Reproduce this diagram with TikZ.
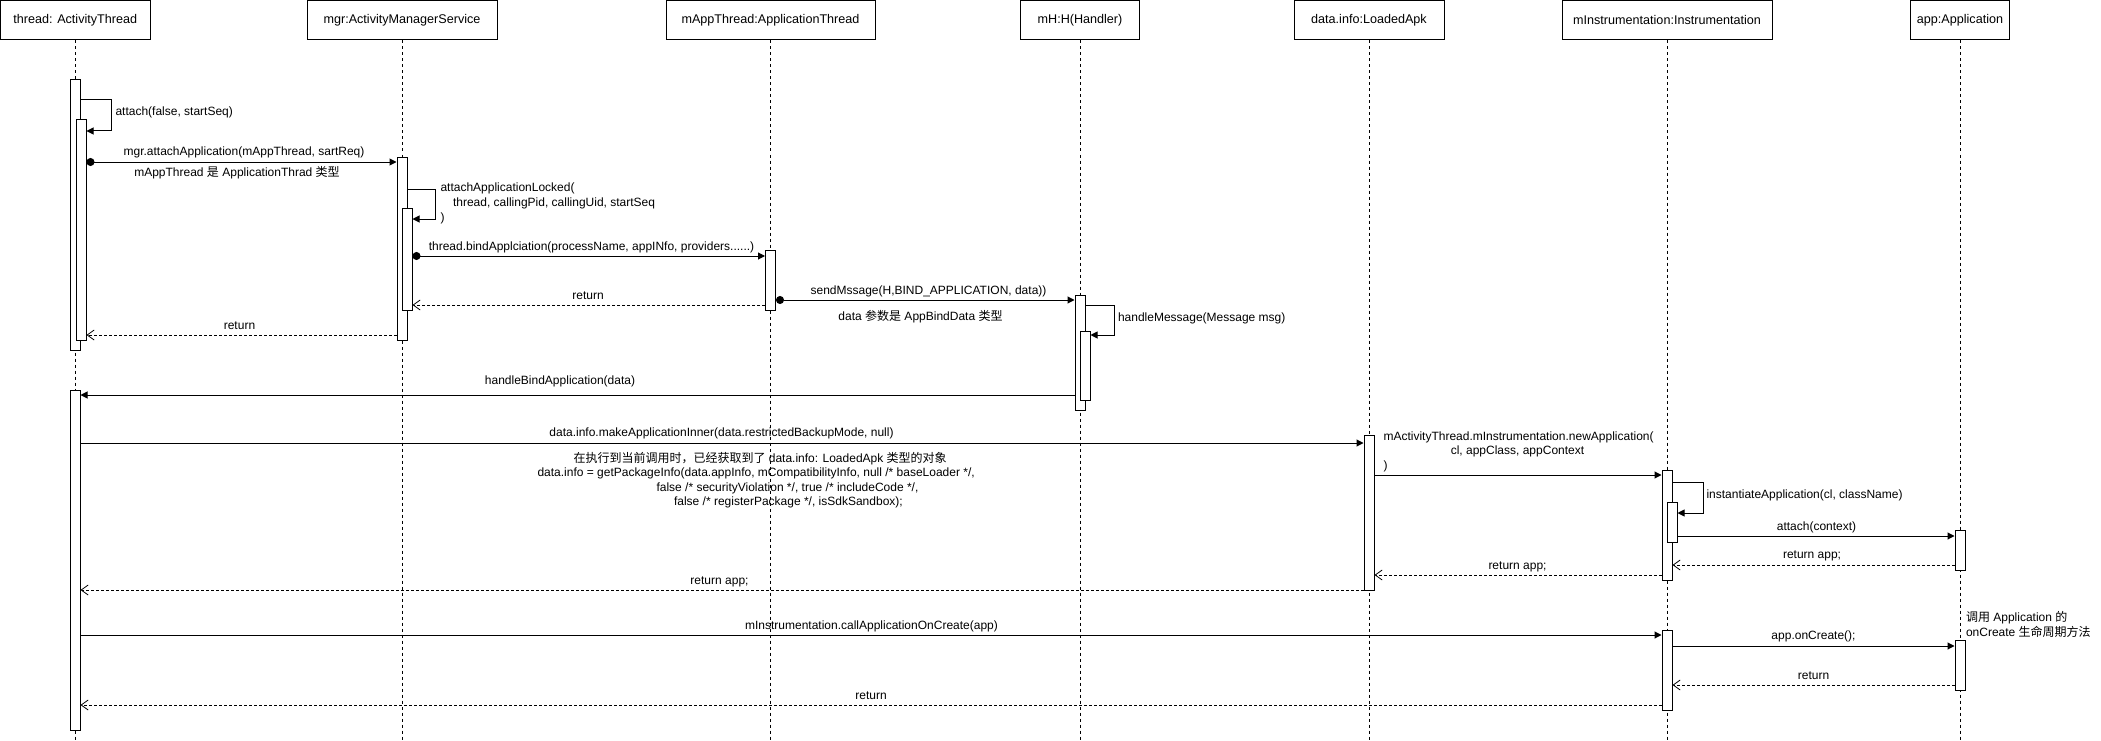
\documentclass[tikz,border=0pt]{standalone}
\usepackage{fontspec}
\setmainfont{Liberation Sans}
\newfontfamily\cjkfont{Noto Sans CJK SC}
\newcommand\zhtext[1]{{\cjkfont #1}}
\usetikzlibrary{arrows.meta,fit}
\begin{document}
\begin{tikzpicture}[x=1pt,y=-1pt, line width=1pt,
  head/.style={draw, inner sep=0pt, font=\fontsize{12.6}{14}\selectfont},
  lifeline/.style={dash pattern=on 3pt off 3pt, line width=0.9pt},
  actbox/.style={draw, fill=white, inner sep=0pt},
  call/.style={-{Triangle[length=7pt,width=7pt]}},
  dotcall/.style={{Circle[length=8pt]}-{Triangle[length=7pt,width=7pt]}},
  ret/.style={dash pattern=on 3pt off 2pt, -{Straight Barb[length=7pt,width=10pt,line width=0.8pt]}},
  lbl/.style={font=\fontsize{12}{14}\selectfont, inner sep=0pt, text height=8.6pt, text depth=2.6pt},
]
\useasboundingbox (0,0) rectangle (2101,741);

% heads
\node[head, minimum width=149.5pt, minimum height=39.5pt] (hT) at (75.25,20.25) {thread: ActivityThread};
\node[head, minimum width=190pt, minimum height=39.5pt] (hM) at (402,20.25) {mgr:ActivityManagerService};
\node[head, minimum width=209pt, minimum height=39.5pt] (hA) at (770.5,20.25) {mAppThread:ApplicationThread};
\node[head, minimum width=119pt, minimum height=39.5pt] (hH) at (1080,20.25) {mH:H(Handler)};
\node[head, minimum width=150pt, minimum height=39.5pt] (hL) at (1369,20.25) {data.info:LoadedApk};
\node[head, minimum width=210pt, minimum height=39.5pt] (hI) at (1667,20.25) {mInstrumentation:Instrumentation};
\node[head, minimum width=99.5pt, minimum height=39.5pt] (hP) at (1960,20.25) {app:Application};

% lifelines
\foreach \h in {hT,hM,hA,hH,hL,hI,hP}
  \draw[lifeline] (\h.south) -- (\h.south |- 0,741);

% activations
\node[actbox, fit={(70,80) (80,350)}] (T1) {};
\node[actbox, fit={(76,120) (86,340)}] (T2) {};
\node[actbox, fit={(70,390) (80,730)}] (T3) {};
\node[actbox, fit={(397,157) (407,340)}] (M1) {};
\node[actbox, fit={(402,208) (412,310)}] (M2) {};
\node[actbox, fit={(765.5,250) (775.5,310)}] (A1) {};
\node[actbox, fit={(1075,295) (1085,410)}] (H1) {};
\node[actbox, fit={(1080,331) (1090,400)}] (H2) {};
\node[actbox, fit={(1364,435) (1374,590)}] (L1) {};
\node[actbox, fit={(1662,470) (1672,580)}] (I1) {};
\node[actbox, fit={(1667,502) (1677,542)}] (I2) {};
\node[actbox, fit={(1662,630) (1672,710)}] (I3) {};
\node[actbox, fit={(1955,530) (1965,570)}] (P1) {};
\node[actbox, fit={(1955,640) (1965,690)}] (P2) {};

% 1 attach self call
\draw[call] (T1.east |- 0,100) -- (111,100) -- (111,131) -- (T2.east |- 0,131);
\node[lbl, anchor=west] at (115,113) {attach(false, startSeq)};
% 2
\draw[dotcall] (T2.east |- 0,162) -- (M1.west |- 0,162);
\node[lbl] at (244,152) {mgr.attachApplication(mAppThread, sartReq)};
\node[lbl] at (237,173) {mAppThread \zhtext{是} ApplicationThrad \zhtext{类型}};
% 3
\draw[call] (M1.east |- 0,189) -- (435,189) -- (435,219) -- (M2.east |- 0,219);
\node[lbl, anchor=west] at (440,188) {attachApplicationLocked(};
\node[lbl, anchor=west] at (452.5,203) {thread, callingPid, callingUid, startSeq};
\node[lbl, anchor=west] at (440,218) {)};
% 4
\draw[dotcall] (M2.east |- 0,256) -- (A1.west |- 0,256);
\node[lbl] at (591.5,247) {thread.bindApplciation(processName, appINfo, providers......)};
% 5
\draw[ret] (A1.west |- 0,305) -- (M2.east |- 0,305);
\node[lbl] at (588,296) {return};
% 6
\draw[dotcall] (A1.east |- 0,300) -- (H1.west |- 0,300);
\node[lbl] at (928.5,291) {sendMssage(H,BIND\_APPLICATION, data))};
\node[lbl] at (920.5,317) {data \zhtext{参数是} AppBindData \zhtext{类型}};
% 7
\draw[call] (H1.east |- 0,305) -- (1114.5,305) -- (1114.5,335) -- (H2.east |- 0,335);
\node[lbl, anchor=west] at (1117.5,318) {handleMessage(Message msg)};
% 8
\draw[ret] (M1.west |- 0,335) -- (T2.east |- 0,335);
\node[lbl] at (239.5,326) {return};
% 9
\draw[call] (H1.west |- 0,395) -- (T3.east |- 0,395);
\node[lbl] at (560,381) {handleBindApplication(data)};
% 10
\draw[call] (T3.east |- 0,443) -- (L1.west |- 0,443);
\node[lbl] at (721.5,433) {data.info.makeApplicationInner(data.restrictedBackupMode, null)};
\node[lbl, anchor=west] at (573,459) {\zhtext{在执行到当前调用时，已经获取到了} data.info: LoadedApk \zhtext{类型的对象}};
\node[lbl, anchor=west] at (537,473) {data.info = getPackageInfo(data.appInfo, mCompatibilityInfo, null /* baseLoader */,};
\node[lbl, anchor=west] at (656,488) {false /* securityViolation */, true /* includeCode */,};
\node[lbl, anchor=west] at (673.5,502) {false /* registerPackage */, isSdkSandbox);};
% 11
\draw[call] (L1.east |- 0,475) -- (I1.west |- 0,475);
\node[lbl, anchor=west] at (1383,437) {mActivityThread.mInstrumentation.newApplication(};
\node[lbl] at (1517.5,451) {cl, appClass, appContext};
\node[lbl, anchor=west] at (1383,466) {)};
% 12
\draw[call] (I1.east |- 0,482) -- (1703,482) -- (1703,513) -- (I2.east |- 0,513);
\node[lbl, anchor=west] at (1706,495) {instantiateApplication(cl, className)};
% 13
\draw[call] (I2.east |- 0,536) -- (P1.west |- 0,536);
\node[lbl] at (1816.5,527) {attach(context)};
% 14
\draw[ret] (P1.west |- 0,565) -- (I1.east |- 0,565);
\node[lbl] at (1812,555) {return app;};
% 15
\draw[ret] (I1.west |- 0,575) -- (L1.east |- 0,575);
\node[lbl] at (1517.5,566) {return app;};
% 16
\draw[ret] (L1.west |- 0,590) -- (T3.east |- 0,590);
\node[lbl] at (719.5,581) {return app;};
% 17
\draw[call] (T3.east |- 0,635) -- (I3.west |- 0,635);
\node[lbl] at (871.5,626) {mInstrumentation.callApplicationOnCreate(app)};
% 18
\draw[call] (I3.east |- 0,646) -- (P2.west |- 0,646);
\node[lbl] at (1813.5,636) {app.onCreate();};
\node[lbl, anchor=west] at (1965.5,618) {\zhtext{调用} Application \zhtext{的}};
\node[lbl, anchor=west] at (1965.5,633) {onCreate \zhtext{生命周期方法}};
% 19
\draw[ret] (P2.west |- 0,685) -- (I3.east |- 0,685);
\node[lbl] at (1813.5,676) {return};
% 20
\draw[ret] (I3.west |- 0,705) -- (T3.east |- 0,705);
\node[lbl] at (871,696) {return};
\end{tikzpicture}
\end{document}
